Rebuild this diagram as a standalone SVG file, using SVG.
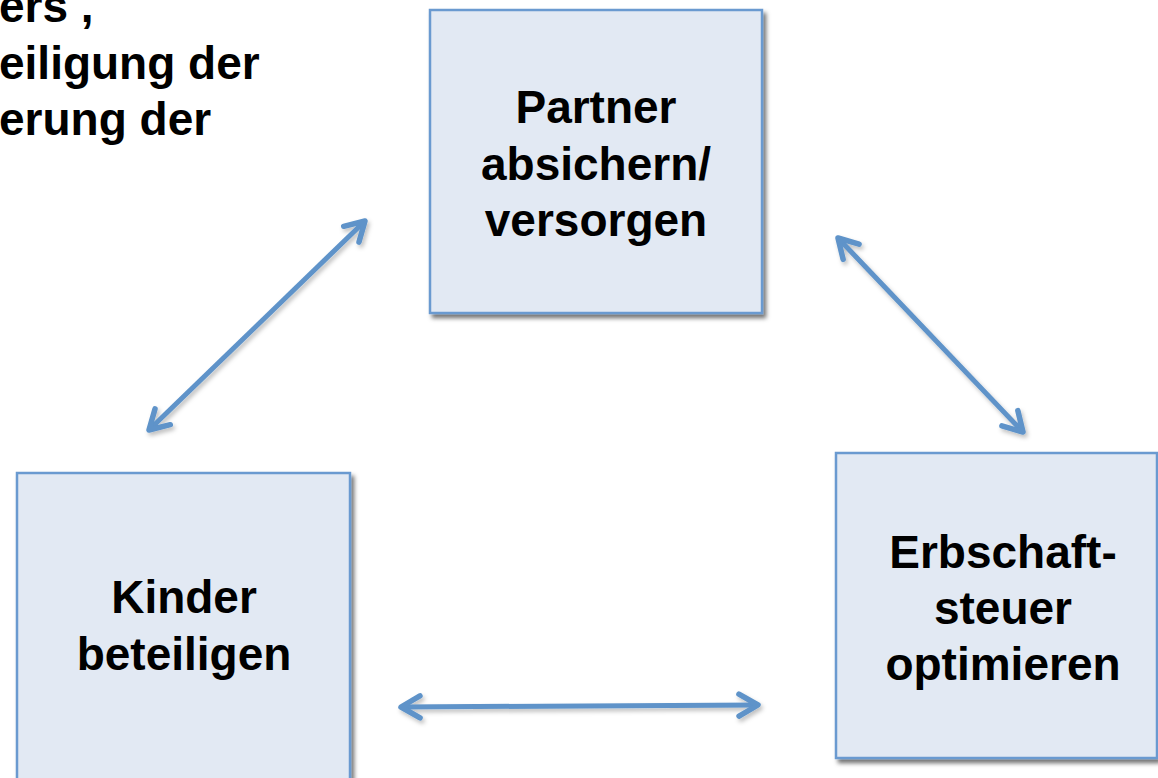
<svg xmlns="http://www.w3.org/2000/svg" width="1158" height="778" viewBox="0 0 1158 778">
  <style>
    .box { fill: #e2e9f3; stroke: #6b9ad0; stroke-width: 2.5; }
    .lbl { font-family: "Liberation Sans", Arial, sans-serif; font-weight: bold; font-size: 46px; fill: #000; text-anchor: middle; }
    .cut { font-family: "Liberation Sans", Arial, sans-serif; font-weight: bold; font-size: 46px; fill: #000; }
    .conn { fill: none; stroke: #5e93c9; stroke-width: 5; stroke-linecap: butt; }
  </style>
  <defs>
    <filter id="boxShadow" x="-10%" y="-10%" width="125%" height="125%">
      <feDropShadow dx="3" dy="4" stdDeviation="2" flood-color="#000" flood-opacity="0.55"/>
    </filter>
    <filter id="arrowShadow" x="-20%" y="-20%" width="140%" height="140%">
      <feDropShadow dx="2" dy="3" stdDeviation="2" flood-color="#000" flood-opacity="0.25"/>
    </filter>
    <marker id="head" markerUnits="userSpaceOnUse" markerWidth="40" markerHeight="40" viewBox="-30 -20 40 40" refX="0" refY="0" orient="auto-start-reverse">
      <path d="M -19 -11 L 0 0 L -19 11" fill="none" stroke="#5e93c9" stroke-width="5.5" stroke-linecap="round" stroke-linejoin="round"/>
    </marker>
  </defs>

  <rect width="1158" height="778" fill="#ffffff"/>

  <g id="cut-text">
    <text class="cut" x="-1" y="22">ers ,</text>
    <text class="cut" x="-1" y="79">eiligung der</text>
    <text class="cut" x="-1" y="135">erung der</text>
  </g>

  <g id="connectors" filter="url(#arrowShadow)">
    <line class="conn" x1="149" y1="430" x2="365" y2="221" marker-start="url(#head)" marker-end="url(#head)"/>
    <line class="conn" x1="838" y1="238" x2="1023" y2="432" marker-start="url(#head)" marker-end="url(#head)"/>
    <line class="conn" x1="401" y1="707" x2="758" y2="705" marker-start="url(#head)" marker-end="url(#head)"/>
  </g>

  <g id="node-partner">
    <rect class="box" x="430" y="10" width="332" height="303" filter="url(#boxShadow)"/>
    <text class="lbl" x="596" y="123">Partner</text>
    <text class="lbl" x="596" y="180">absichern/</text>
    <text class="lbl" x="596" y="236">versorgen</text>
  </g>

  <g id="node-kinder">
    <rect class="box" x="17" y="473" width="333" height="320" filter="url(#boxShadow)"/>
    <text class="lbl" x="184" y="613">Kinder</text>
    <text class="lbl" x="184" y="670">beteiligen</text>
  </g>

  <g id="node-erbschaft">
    <rect class="box" x="836" y="453" width="321" height="305" filter="url(#boxShadow)"/>
    <text class="lbl" x="1003" y="568">Erbschaft-</text>
    <text class="lbl" x="1003" y="624">steuer</text>
    <text class="lbl" x="1003" y="680">optimieren</text>
  </g>
</svg>
